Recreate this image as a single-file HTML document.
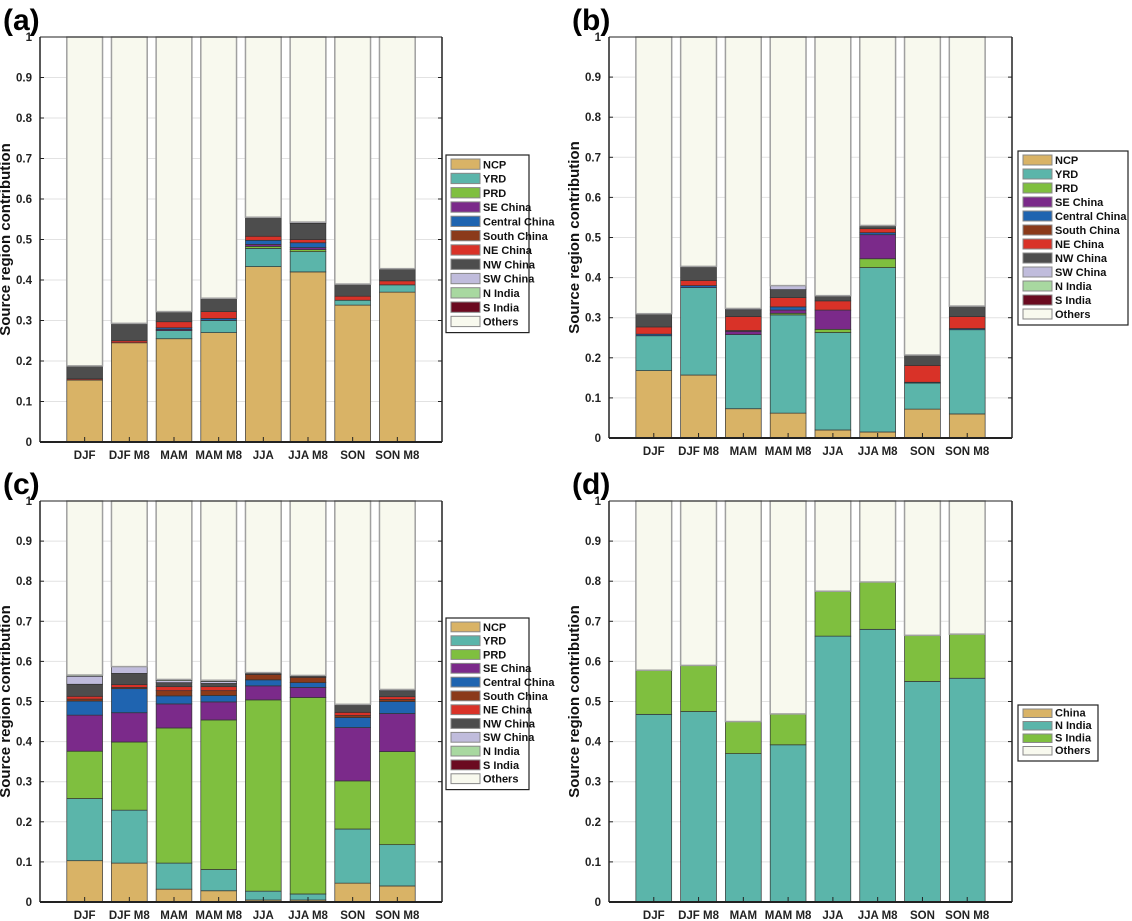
<!DOCTYPE html>
<html><head><meta charset="utf-8"><style>
html,body{margin:0;padding:0;background:#fff;}
svg{display:block;font-family:"Liberation Sans",sans-serif;}
</style></head><body>
<svg id="fig" width="1132" height="921" viewBox="0 0 1132 921"></svg>
<script>
const categories = ["DJF","DJF M8","MAM","MAM M8","JJA","JJA M8","SON","SON M8"];
const regionNames = ["NCP","YRD","PRD","SE China","Central China","South China","NE China","NW China","SW China","N India","S India","Others"];
const regionColors = ["#d9b366","#5bb5aa","#7fbf3f","#7b2a8a","#1f64b0","#8b3a1a","#d93228","#4d4d4d","#c0bcdc","#a8d8a0","#6b0a20","#f8f9ee"];
// panel a: rows = categories, cols = regions (excluding Others)
const dataA = [
 [.153,0,0,0,0,0,.003,.032,0,0,0],
 [.245,0,0,0,0,0,.005,.043,0,0,0],
 [.255,.02,0,.003,.004,0,.015,.025,0,0,0],
 [.27,.03,0,0,.005,0,.017,.033,0,0,0],
 [.433,.045,.005,.005,.01,0,.01,.047,0,0,0],
 [.42,.05,.005,.005,.012,0,.008,.04,.003,0,0],
 [.338,.012,0,0,0,0,.01,.03,0,0,0],
 [.37,.018,0,0,0,0,.01,.03,0,0,0]
];
const dataB = [
 [.168,.087,0,0,.004,0,.018,.033,0,0,0],
 [.157,.218,0,0,.005,0,.013,.035,0,0,0],
 [.073,.185,0,.008,.002,0,.035,.017,.003,0,0],
 [.062,.245,.004,.008,.008,0,.023,.02,.01,0,0],
 [.02,.243,.008,.048,0,0,.023,.013,0,0,0],
 [.015,.41,.022,.06,.005,0,.01,.008,0,0,0],
 [.072,.065,0,0,.002,0,.042,.026,0,0,0],
 [.06,.21,0,0,.003,0,.03,.026,0,0,0]
];
const dataC = [
 [.103,.155,.118,.09,.035,.005,.007,.03,.02,.003,0],
 [.097,.132,.17,.073,.06,.003,.007,.028,.017,0,0],
 [.032,.065,.337,.06,.02,.013,.01,.01,.005,.003,0],
 [.028,.053,.373,.045,.016,.012,.01,.008,.005,.003,0],
 [.005,.022,.477,.035,.015,.013,.002,.003,0,0,0],
 [.005,.015,.49,.025,.012,.013,.002,.003,0,0,0],
 [.047,.135,.12,.133,.025,.005,.008,.02,0,0,0],
 [.04,.103,.232,.095,.03,.005,.007,.015,.003,0,0]
];
const dNames = ["China","N India","S India","Others"];
const dColors = ["#d9b366","#5bb5aa","#7fbf3f","#f8f9ee"];
const dChina = [0,0,0,0,0,0,0,0];
const dNIndia = [.468,.475,.37,.392,.663,.68,.55,.558];
const dSIndia = [.11,.115,.08,.077,.112,.118,.115,.11];
const yTicks = ["0","0.1","0.2","0.3","0.4","0.5","0.6","0.7","0.8","0.9","1"];

const NS="http://www.w3.org/2000/svg";
const svg=document.getElementById('fig');
function mk(tag,attrs,parent){const e=document.createElementNS(NS,tag);for(const k in attrs)e.setAttribute(k,attrs[k]);(parent||svg).appendChild(e);return e;}

function panel(p){
  const g=mk('g',{});
  
  
  const x0=p.x0,x1=p.x1,yb=p.yb,yt=p.yt;
  const yScale=v=>yb-(yb-yt)*v;
  const step=(x1-x0)/9;
  const xScale=i=>x0+step*(i+1);
  // grid
  yTicks.forEach((t,i)=>{
    const y=yScale(i/10);
    if(i>0){const gl=mk('line',{x1:x0,x2:x1,y1:y,y2:y,stroke:'#e2e2e2','stroke-width':1},g);
      }
    const tl=mk('text',{x:x0-8,y:y+4,'text-anchor':'end','font-size':11.5,'font-weight':'bold',fill:'#222'},g);
    tl.textContent=t;
    
    mk('line',{x1:x0,x2:x0+4,y1:y,y2:y,stroke:'#222'},g);
    mk('line',{x1:x1,x2:x1-4,y1:y,y2:y,stroke:'#222'},g);
  });
  // bars
  const bw=step*0.8;
  p.rows.forEach((row,i)=>{
    let acc=0;const cx=xScale(i);
    const bar=mk('g',{},g);
    
    
    const vals=row.concat([Math.max(0,1-row.reduce((a,b)=>a+b,0))]);
    vals.forEach((v,k)=>{
      if(v<=0)return;
      const ya=yScale(acc),yb2=yScale(acc+v);
      const r=mk('rect',{x:cx-bw/2,y:yb2,width:bw,height:ya-yb2,fill:p.colors[k],stroke:k===vals.length-1?'#a0a0a0':'#333','stroke-width':k===vals.length-1?1.5:0.7},bar);
      
      
      acc+=v;
    });
    mk('line',{x1:cx,x2:cx,y1:yb,y2:yb-5,stroke:'#222','stroke-width':1},g);
    const cl=mk('text',{x:cx,y:yb+17,'text-anchor':'middle','font-size':11.5,'font-weight':'bold',fill:'#222'},g);
    cl.textContent=categories[i];
    
  });
  // axes
  mk('line',{x1:x0,x2:x1,y1:yt,y2:yt,stroke:'#222','stroke-width':1},g);
  mk('line',{x1:x1,x2:x1,y1:yt,y2:yb,stroke:'#222','stroke-width':1.5},g);
  mk('line',{x1:x0,x2:x0,y1:yt,y2:yb,stroke:'#222','stroke-width':1.5},g);
  mk('line',{x1:x0,x2:x1,y1:yb,y2:yb,stroke:'#222','stroke-width':2},g);
  const yl=mk('text',{x:0,y:0,'text-anchor':'middle','font-size':15,'font-weight':'bold',fill:'#111',transform:`translate(${x0-30},${(yt+yb)/2}) rotate(-90)`},g);
  yl.textContent='Source  region contribution';
  
  const pl=mk('text',{x:p.lx,y:p.ly,'font-size':30,'font-weight':'bold',fill:'#000'},g);
  pl.textContent='('+p.id+')';
  
  // legend
  const lg=mk('g',{},g);
  
  const n=p.names.length;
  mk('rect',{x:p.legX,y:p.legY,width:p.legW,height:p.legSp*n+6,fill:'#fff',stroke:'#222','stroke-width':1.2},lg);
  p.names.forEach((nm,k)=>{
    const e=mk('g',{},lg);
    
    const y=p.legY+4+k*p.legSp;
    mk('rect',{x:p.legX+5,y:y,width:29,height:p.legSp-4,fill:p.colors[k],stroke:'#888','stroke-width':1},e);
    const t=mk('text',{x:p.legX+37,y:y+p.legSp-5,'font-size':11,'font-weight':'bold',fill:'#111'},e);
    t.textContent=nm;
  });
}
const dRows=categories.map((c,i)=>[dChina[i],dNIndia[i],dSIndia[i]]);
panel({id:'a',x0:40,x1:442,yb:442,yt:37,rows:dataA,colors:regionColors,names:regionNames,lx:3,ly:30,legX:446,legY:155,legW:83,legSp:14.3});
panel({id:'b',x0:609,x1:1012,yb:438,yt:37,rows:dataB,colors:regionColors,names:regionNames,lx:572,ly:30,legX:1018,legY:151,legW:110,legSp:14});
panel({id:'c',x0:40,x1:442,yb:902,yt:501,rows:dataC,colors:regionColors,names:regionNames,lx:3,ly:494,legX:446,legY:618,legW:83,legSp:13.8});
panel({id:'d',x0:609,x1:1012,yb:902,yt:501,rows:dRows,colors:dColors,names:dNames,lx:572,ly:494,legX:1018,legY:705,legW:80,legSp:12.5});
</script>
</body></html>
